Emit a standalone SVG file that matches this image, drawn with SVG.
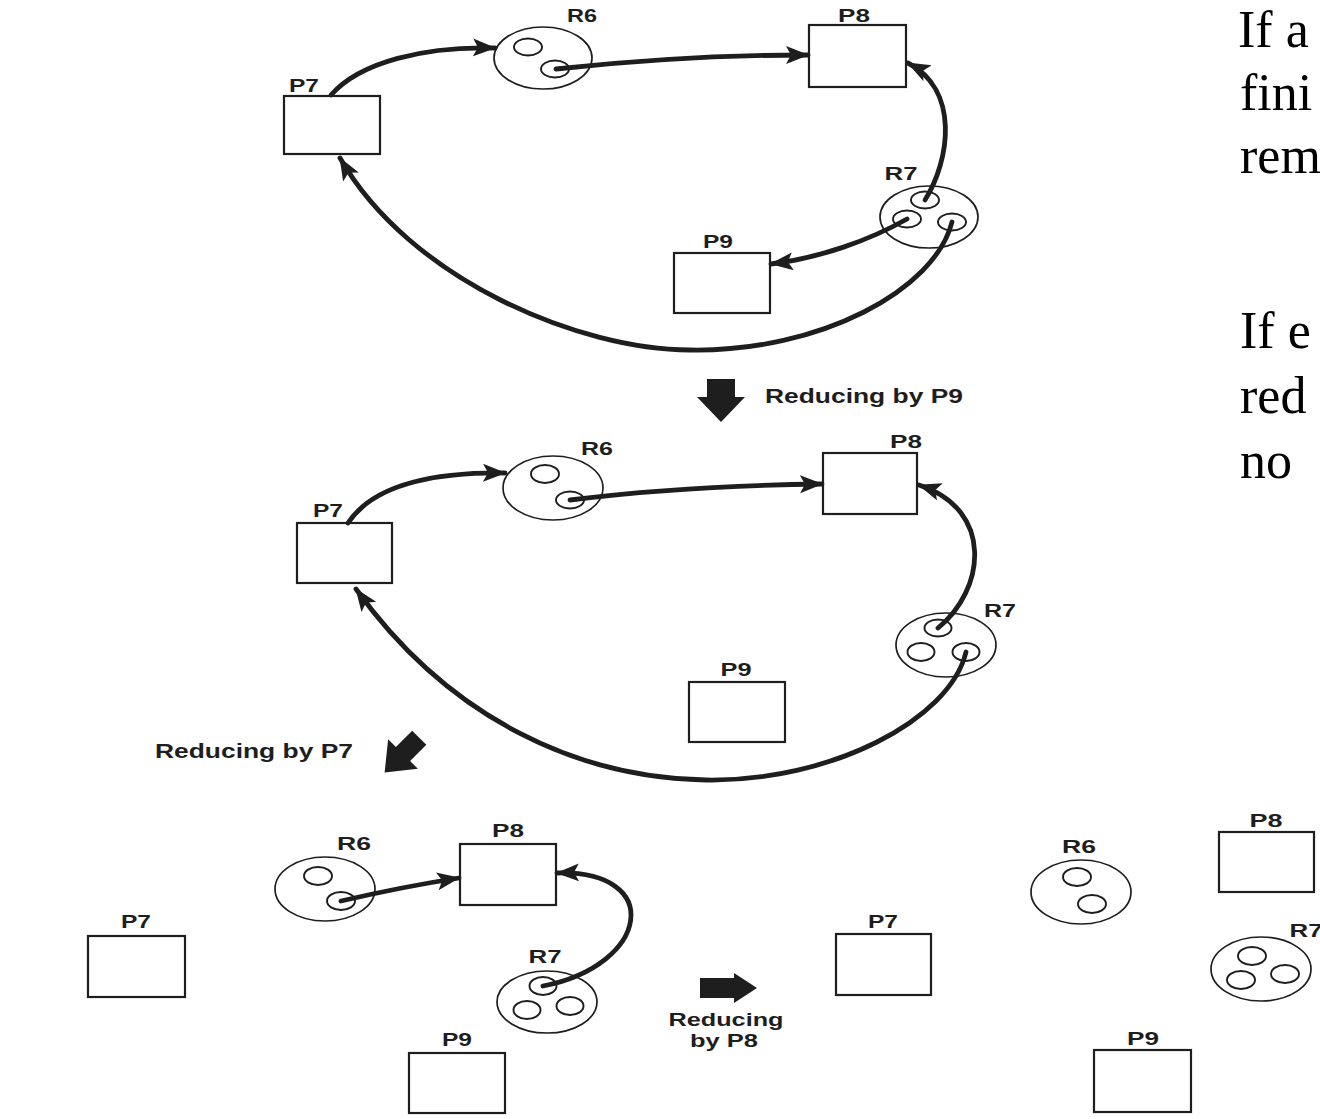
<svg xmlns="http://www.w3.org/2000/svg" width="1320" height="1119" viewBox="0 0 1320 1119">
<defs>
<style>
.box{fill:none;stroke:#1e1e1e;stroke-width:2.2}
.res{fill:#fff;stroke:#1e1e1e;stroke-width:1.7}
.inst{fill:#fff;stroke:#1e1e1e;stroke-width:1.9}
.lbl{font-family:"Liberation Sans",Arial,sans-serif;font-weight:bold;font-size:18.5px;fill:#1e1e1e;text-anchor:middle}
.cap{font-family:"Liberation Sans",Arial,sans-serif;font-weight:bold;font-size:19.5px;fill:#1e1e1e}
.cap2{font-family:"Liberation Sans",Arial,sans-serif;font-weight:bold;font-size:18px;fill:#1e1e1e;text-anchor:middle}
.side{font-family:"Liberation Serif","Times New Roman",serif;font-size:52px;fill:#000}
.edge{fill:none;stroke:#1e1e1e;stroke-width:4.8;stroke-linecap:round}
.blk{fill:#1e1e1e}
</style>
<marker id="ah" markerUnits="userSpaceOnUse" markerWidth="26" markerHeight="20" refX="22" refY="9" orient="auto">
<path d="M0,0 L23,9 L0,18 L5,9 z" fill="#1e1e1e"/>
</marker>
</defs>
<rect width="1320" height="1119" fill="#fff"/>

<!-- Panel 1 -->
<g id="p1-P7"><rect class="box" x="284" y="96" width="96" height="58"/><text class="lbl" x="304" y="92" textLength="30" lengthAdjust="spacingAndGlyphs">P7</text></g>
<g id="p1-P8"><rect class="box" x="809" y="25" width="97" height="62"/><text class="lbl" x="854" y="22" textLength="32" lengthAdjust="spacingAndGlyphs">P8</text></g>
<g id="p1-P9"><rect class="box" x="674" y="253" width="96" height="60"/><text class="lbl" x="718" y="248" textLength="30" lengthAdjust="spacingAndGlyphs">P9</text></g>
<g id="p1-R6"><ellipse class="res" cx="543" cy="58" rx="49" ry="31"/><ellipse class="inst" cx="528" cy="47" rx="14" ry="8.5"/><ellipse class="inst" cx="555" cy="69" rx="14" ry="8.5"/><text class="lbl" x="582" y="22" textLength="30" lengthAdjust="spacingAndGlyphs">R6</text></g>
<g id="p1-R7"><ellipse class="res" cx="929" cy="217" rx="49" ry="31"/><ellipse class="inst" cx="925" cy="200" rx="14" ry="8.5"/><ellipse class="inst" cx="907" cy="219" rx="14" ry="8.5"/><ellipse class="inst" cx="952" cy="222" rx="14" ry="8.5"/><text class="lbl" x="901" y="180" textLength="33" lengthAdjust="spacingAndGlyphs">R7</text></g>

<!-- Panel 2 -->
<g id="p2-P7"><rect class="box" x="297" y="523" width="95" height="60"/><text class="lbl" x="328" y="517" textLength="30" lengthAdjust="spacingAndGlyphs">P7</text></g>
<g id="p2-P8"><rect class="box" x="823" y="453" width="94" height="61"/><text class="lbl" x="906" y="448" textLength="32" lengthAdjust="spacingAndGlyphs">P8</text></g>
<g id="p2-P9"><rect class="box" x="689" y="682" width="96" height="60"/><text class="lbl" x="736" y="676" textLength="31" lengthAdjust="spacingAndGlyphs">P9</text></g>
<g id="p2-R6"><ellipse class="res" cx="553" cy="488" rx="50" ry="32"/><ellipse class="inst" cx="545" cy="474" rx="14" ry="9"/><ellipse class="inst" cx="570" cy="500" rx="14" ry="8.5"/><text class="lbl" x="597" y="455" textLength="32" lengthAdjust="spacingAndGlyphs">R6</text></g>
<g id="p2-R7"><ellipse class="res" cx="946" cy="645" rx="50" ry="32"/><ellipse class="inst" cx="938" cy="628" rx="13.5" ry="8.5"/><ellipse class="inst" cx="921" cy="652" rx="13.5" ry="9"/><ellipse class="inst" cx="966" cy="652" rx="13.5" ry="9"/><text class="lbl" x="1000" y="617" textLength="32" lengthAdjust="spacingAndGlyphs">R7</text></g>

<!-- Panel 3 -->
<g id="p3-P7"><rect class="box" x="88" y="936" width="97" height="61"/><text class="lbl" x="136" y="928" textLength="30" lengthAdjust="spacingAndGlyphs">P7</text></g>
<g id="p3-P8"><rect class="box" x="460" y="844" width="96" height="61"/><text class="lbl" x="508" y="837" textLength="32" lengthAdjust="spacingAndGlyphs">P8</text></g>
<g id="p3-P9"><rect class="box" x="409" y="1053" width="96" height="60"/><text class="lbl" x="457" y="1046" textLength="30" lengthAdjust="spacingAndGlyphs">P9</text></g>
<g id="p3-R6"><ellipse class="res" cx="325" cy="889" rx="50" ry="32"/><ellipse class="inst" cx="318" cy="876" rx="14" ry="9"/><ellipse class="inst" cx="341" cy="901" rx="14" ry="9"/><text class="lbl" x="354" y="850" textLength="34" lengthAdjust="spacingAndGlyphs">R6</text></g>
<g id="p3-R7"><ellipse class="res" cx="547" cy="1002" rx="50" ry="31"/><ellipse class="inst" cx="543" cy="986" rx="13.5" ry="9"/><ellipse class="inst" cx="527" cy="1010" rx="13.5" ry="9"/><ellipse class="inst" cx="570" cy="1006" rx="13.5" ry="9"/><text class="lbl" x="545" y="963" textLength="33" lengthAdjust="spacingAndGlyphs">R7</text></g>

<!-- Panel 4 -->
<g id="p4-P7"><rect class="box" x="836" y="934" width="95" height="61"/><text class="lbl" x="883" y="928" textLength="30" lengthAdjust="spacingAndGlyphs">P7</text></g>
<g id="p4-P8"><rect class="box" x="1219" y="832" width="95" height="60"/><text class="lbl" x="1266" y="827" textLength="33" lengthAdjust="spacingAndGlyphs">P8</text></g>
<g id="p4-P9"><rect class="box" x="1094" y="1050" width="97" height="62"/><text class="lbl" x="1143" y="1045" textLength="32" lengthAdjust="spacingAndGlyphs">P9</text></g>
<g id="p4-R6"><ellipse class="res" cx="1081" cy="892" rx="50" ry="32"/><ellipse class="inst" cx="1077" cy="877" rx="14" ry="9"/><ellipse class="inst" cx="1092" cy="904" rx="14" ry="9"/><text class="lbl" x="1079" y="853" textLength="34" lengthAdjust="spacingAndGlyphs">R6</text></g>
<g id="p4-R7"><ellipse class="res" cx="1261" cy="969" rx="50" ry="32"/><ellipse class="inst" cx="1252" cy="956" rx="14" ry="9"/><ellipse class="inst" cx="1241" cy="980" rx="14" ry="9"/><ellipse class="inst" cx="1285" cy="974" rx="14" ry="9"/><text class="lbl" x="1306" y="937" textLength="33" lengthAdjust="spacingAndGlyphs">R7</text></g>

<!-- Connectors -->
<g id="connectors">
<path class="edge" marker-end="url(#ah)" d="M331 95 C360 62 425 46 495 48"/>
<path class="edge" marker-end="url(#ah)" d="M556 69 C640 60 720 55 808 55"/>
<path class="edge" marker-end="url(#ah)" d="M925 200 C950 160 960 90 908 63"/>
<path class="edge" marker-end="url(#ah)" d="M907 219 C870 240 820 258 771 264"/>
<path class="edge" marker-end="url(#ah)" d="M952 222 C935 290 820 352 690 350 C580 350 410 280 340 158"/>

<path class="edge" marker-end="url(#ah)" d="M348 523 C370 490 420 472 505 473"/>
<path class="edge" marker-end="url(#ah)" d="M570 500 C650 490 740 485 822 484"/>
<path class="edge" marker-end="url(#ah)" d="M938 628 C985 590 995 510 919 485"/>
<path class="edge" marker-end="url(#ah)" d="M966 652 C950 720 830 782 706 780 C580 778 450 720 356 589"/>

<path class="edge" marker-end="url(#ah)" d="M341 901 C380 892 420 884 459 878"/>
<path class="edge" marker-end="url(#ah)" d="M543 986 C650 965 665 870 557 873"/>
</g>

<!-- Step arrows and captions -->
<g id="step-p9">
<path class="blk" d="M707 379 H735 V397 H745 L721 422 L697 397 H707 Z"/>
<text class="cap" x="765" y="403" textLength="198" lengthAdjust="spacingAndGlyphs">Reducing by P9</text>
</g>
<g id="step-p7">
<path class="blk" transform="translate(403 754) rotate(135)" d="M-23 -10 H0 V-21 L26 0 L0 21 V10 H-23 Z"/>
<text class="cap" x="155" y="758" textLength="198" lengthAdjust="spacingAndGlyphs">Reducing by P7</text>
</g>
<g id="step-p8">
<path class="blk" d="M700 978 H734 V973 L757 988 L734 1003 V998 H700 Z"/>
<text class="cap2" x="726" y="1026" textLength="115" lengthAdjust="spacingAndGlyphs">Reducing</text>
<text class="cap2" x="724" y="1047" textLength="68" lengthAdjust="spacingAndGlyphs">by P8</text>
</g>

<!-- Side text (cut off at right edge as in the picture) -->
<g id="side-text">
<text class="side" x="1238" y="47">If a</text>
<text class="side" x="1240" y="110">fini</text>
<text class="side" x="1240" y="173">rem</text>
<text class="side" x="1240" y="348">If e</text>
<text class="side" x="1240" y="413">red</text>
<text class="side" x="1240" y="478">no</text>
</g>
</svg>
